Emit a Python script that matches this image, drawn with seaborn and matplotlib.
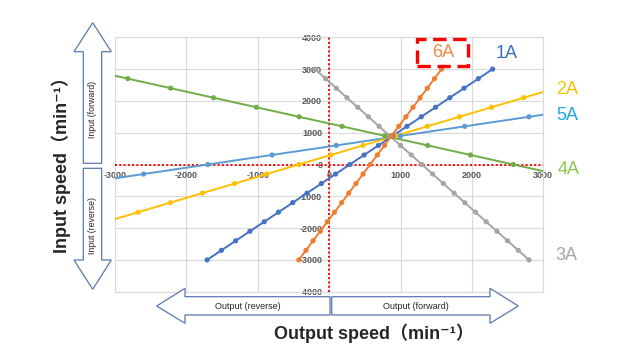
import matplotlib
matplotlib.use("Agg")
import numpy as np
import pandas as pd
import seaborn as sns
import matplotlib.pyplot as plt
from matplotlib.patches import Polygon, Rectangle

# ---------------- data ----------------
speed_steps = [-3000, -2700, -2400, -2100, -1800, -1500, -1200, -900, -600, -300, 0,
               300, 600, 900, 1200, 1500, 1800, 2100, 2400, 2700, 3000]

x_1A = [-1710, -1510, -1310, -1110, -910, -710, -510, -310, -110, 90, 290,
        490, 690, 890, 1090, 1290, 1490, 1690, 1890, 2090, 2290]
y_1A = speed_steps

x_6A = [-425, -325, -225, -125, -25, 75, 175, 275, 375, 475, 575,
        675, 775, 875, 975, 1075, 1175, 1275, 1375, 1475, 1575]
y_6A = speed_steps

x_3A = [-200, -50, 100, 250, 400, 550, 700, 850, 1000, 1150, 1300,
        1450, 1600, 1750, 1900, 2050, 2200, 2350, 2500, 2650, 2800]
y_3A = [3000, 2700, 2400, 2100, 1800, 1500, 1200, 900, 600, 300, 0,
        -300, -600, -900, -1200, -1500, -1800, -2100, -2400, -2700, -3000]

x_2A = [-2675, -2225, -1775, -1325, -875, -425, 25, 475, 925, 1375, 1825, 2275, 2725]
y_2A = [-1500, -1200, -900, -600, -300, 0, 300, 600, 900, 1200, 1500, 1800, 2100]
edge_x_2A = [-3000, 3000]
edge_y_2A = [-1717, 2283]

x_5A = [-2600, -1700, -800, 100, 1000, 1900, 2800]
y_5A = [-300, 0, 300, 600, 900, 1200, 1500]
edge_x_5A = [-3000, 3000]
edge_y_5A = [-433, 1567]

x_4A = [-2820, -2220, -1620, -1020, -420, 180, 780, 1380, 1980, 2580]
y_4A = [2700, 2400, 2100, 1800, 1500, 1200, 900, 600, 300, 0]
edge_x_4A = [-3000, 3000]
edge_y_4A = [2790, -210]

series_names = ["3A", "4A", "5A", "2A", "1A", "6A"]
x_ticks = [-3000, -2000, -1000, 0, 1000, 2000, 3000]
y_ticks = [-4000, -3000, -2000, -1000, 0, 1000, 2000, 3000, 4000]

line_colors = {"1A": "#4472C4", "6A": "#ED7D31", "3A": "#A5A5A5",
               "2A": "#FFC000", "5A": "#5B9BD5", "4A": "#70AD47"}
label_colors = {"1A": "#3A70C0", "6A": "#EE8A45", "3A": "#A6A6A6",
                "2A": "#FFC000", "5A": "#1AA7E8", "4A": "#8DC551"}

# ---------------- tables ----------------
markers = {"1A": (x_1A, y_1A), "6A": (x_6A, y_6A), "3A": (x_3A, y_3A),
           "2A": (x_2A, y_2A), "5A": (x_5A, y_5A), "4A": (x_4A, y_4A)}
edges = {"2A": (edge_x_2A, edge_y_2A), "5A": (edge_x_5A, edge_y_5A),
         "4A": (edge_x_4A, edge_y_4A)}

mk_rows, ln_rows = [], []
for name in series_names:
    xs, ys = markers[name]
    for a, b in zip(xs, ys):
        mk_rows.append((name, a, b))
    if name in edges:
        ex, ey = edges[name]
        lx = [ex[0]] + list(xs) + [ex[1]]
        ly = [ey[0]] + list(ys) + [ey[1]]
    else:
        lx, ly = list(xs), list(ys)
    for a, b in zip(lx, ly):
        ln_rows.append((name, a, b))
mk_df = pd.DataFrame(mk_rows, columns=["series", "x", "y"])
ln_df = pd.DataFrame(ln_rows, columns=["series", "x", "y"])

# ---------------- figure ----------------
sns.set_style("white")
plt.rcParams["font.family"] = ["Liberation Sans", "DejaVu Sans", "Noto Sans CJK JP"]
plt.rcParams["axes.unicode_minus"] = False

W, H = 630, 360
fig = plt.figure(figsize=(6.3, 3.6), dpi=100)


def P(x, y):
    return (x / W, 1 - y / H)


ax_l, ax_r, ax_t, ax_b = 115, 543.3, 37.3, 291.7
ax = fig.add_axes([ax_l / W, 1 - ax_b / H, (ax_r - ax_l) / W, (ax_b - ax_t) / H])
ax.set_facecolor("white")

sns.lineplot(data=ln_df, x="x", y="y", hue="series", hue_order=series_names,
             palette=line_colors, sort=False, estimator=None, legend=False,
             linewidth=1.4, ax=ax, zorder=3)
sns.scatterplot(data=mk_df, x="x", y="y", hue="series", hue_order=series_names,
                palette=line_colors, s=14, linewidth=0, legend=False, ax=ax, zorder=4)

ax.set_xlim(-3000, 3000)
ax.set_ylim(-4000, 4000)
ax.set_xticks(x_ticks)
ax.set_yticks(y_ticks)
ax.set_xlabel("")
ax.set_ylabel("")
ax.grid(True, color="#D9D9D9", linewidth=0.8, zorder=0)
ax.set_axisbelow(True)
ax.spines["left"].set_position("zero")
ax.spines["bottom"].set_position("zero")
for s in ax.spines.values():
    s.set_visible(False)
ax.tick_params(axis="both", length=0, labelsize=6.5, labelcolor="#595959")
ax.tick_params(axis="x", pad=5)
ax.tick_params(axis="y", pad=5)
for t in ax.get_xticklabels() + ax.get_yticklabels():
    t.set_fontweight("bold")
ax.add_patch(Rectangle((0, 0), 1, 1, transform=ax.transAxes, fill=False,
                       ec="#D9D9D9", lw=0.8, clip_on=False, zorder=1))
ax.axvline(0, color="red", linestyle=(0, (1, 1.2)), linewidth=1.4, zorder=2)
ax.axhline(0, color="red", linestyle=(0, (1, 1.2)), linewidth=1.4, zorder=2)

# ---------------- series labels ----------------
label_pos = {"6A": (442.7, 52.7), "1A": (506.7, 53.3), "2A": (566.7, 90),
             "5A": (567.3, 115), "4A": (568.3, 170), "3A": (566.7, 255)}
for name, (px, py) in label_pos.items():
    fig.text(*P(px, py), name, color=label_colors[name], fontsize=13,
             ha="center", va="center")
fig.add_artist(Rectangle(P(416.7, 66), (468.3 - 416.7) / W, (66 - 39.3) / H,
                         transform=fig.transFigure, fill=False, ec="#FF0000",
                         lw=2.4, linestyle=(0, (4, 2))))

# ---------------- block arrows ----------------
arrow_ec = "#5A77AD"
up = [(83.3, 163.3), (83.3, 51.7), (74, 51.7), (92.7, 22.7), (111.3, 51.7),
      (101.7, 51.7), (101.7, 163.3)]
down = [(83.3, 168.3), (101.7, 168.3), (101.7, 260), (111.3, 260), (92.7, 289.3),
        (74, 260), (83.3, 260)]
left = [(330, 296.7), (185, 296.7), (185, 288.3), (156.7, 306), (185, 323.3),
        (185, 315), (330, 315)]
right = [(331.7, 296.7), (490, 296.7), (490, 288.3), (518.3, 306), (490, 323.3),
         (490, 315), (331.7, 315)]
for pts in (up, down, left, right):
    fig.add_artist(Polygon([P(a, b) for a, b in pts], closed=True,
                           transform=fig.transFigure, fc="white", ec=arrow_ec,
                           lw=0.9, zorder=5))

fig.text(*P(92.7, 109), "Input (forward)", rotation=90, fontsize=6.3,
         ha="center", va="center", zorder=6)
fig.text(*P(92.7, 225), "Input (reverse)", rotation=90, fontsize=6.3,
         ha="center", va="center", zorder=6)
fig.text(*P(248.3, 306.5), "Output (reverse)", fontsize=6.5,
         ha="center", va="center", zorder=6)
fig.text(*P(415.7, 306.5), "Output (forward)", fontsize=6.5,
         ha="center", va="center", zorder=6)

fig.text(*P(61.7, 160.8), "Input speed\uff08min\u207b\u00b9\uff09", rotation=90,
         fontsize=13, fontweight="bold", ha="center", va="center")
fig.text(*P(374, 333.3), "Output speed\uff08min\u207b\u00b9\uff09",
         fontsize=13, fontweight="bold", ha="center", va="center")

fig.savefig("out.png", dpi=100)
